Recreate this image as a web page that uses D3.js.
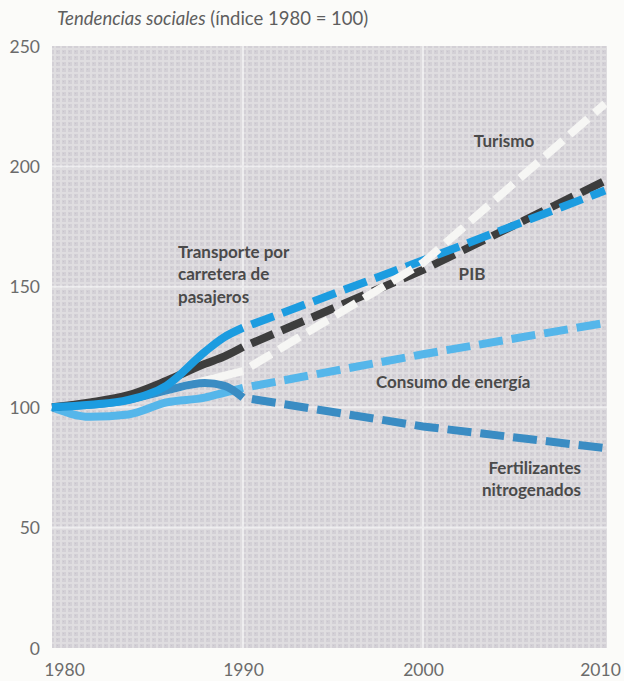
<!DOCTYPE html>
<html>
<head>
<meta charset="utf-8">
<script src="https://cdn.jsdelivr.net/npm/d3@7"></script>
<style>
  html, body { margin: 0; padding: 0; background: #fbfbf9; }
  svg { display: block; }
</style>
</head>
<body>
<svg id="chart" width="624" height="681"></svg>
<script>
// Index values (1980 = 100)
const years = [1980, 1982, 1984, 1986, 1988, 1989, 1990, 2000, 2010];
const pib          = [100, 102, 105, 111, 118, 121, 125, 157, 194];
const transporte   = [100, 101, 103, 109, 123, 129, 133, 161, 190];
const turismo      = [100, 101, 103, 107, 111, 113, 115, 160, 226];
const energia      = [100,  96,  97, 102, 104, 106, 108, 122, 135];
const fertilizantes= [100, 101, 103, 107, 110, 109, 104,  92,  83];

const yTicks = [0, 50, 100, 150, 200, 250];
const xTicks = [1980, 1990, 2000, 2010];
const splitYear = 1990;

const series = [
  { name: "Turismo", values: turismo, color: "#f6f6f4" },
  { name: "Consumo de energía", values: energia, color: "#55b6ea" },
  { name: "Fertilizantes nitrogenados", values: fertilizantes, color: "#3a8cc3" },
  { name: "PIB", values: pib, color: "#3d3d3d" },
  { name: "Transporte por carretera de pasajeros", values: transporte, color: "#1c9ce0" }
];

const svg = d3.select("#chart");
const plot = { left: 52, right: 607, top: 46, bottom: 648 };

const x = d3.scaleLinear().domain([1980, 1990, 2000, 2010]).range([52, 243, 423, 605]);
const y = d3.scaleLinear().domain([0, 250]).range([plot.bottom, plot.top]);

// textured grey backdrop
const defs = svg.append("defs");
const pat = defs.append("pattern").attr("id", "tex")
  .attr("width", 6).attr("height", 6).attr("patternUnits", "userSpaceOnUse");
pat.append("rect").attr("width", 6).attr("height", 6).attr("fill", "#d3d0d6");
pat.append("rect").attr("x", 0).attr("y", 0).attr("width", 6).attr("height", 2).attr("fill", "#dfdde0");
pat.append("rect").attr("x", 0).attr("y", 0).attr("width", 2).attr("height", 6).attr("fill", "#dfdde0");
pat.append("rect").attr("x", 3).attr("y", 3).attr("width", 1).attr("height", 1).attr("fill", "#c8c4cc");

svg.append("rect")
  .attr("x", plot.left).attr("y", plot.top)
  .attr("width", plot.right - plot.left).attr("height", plot.bottom - plot.top)
  .attr("fill", "url(#tex)");

// white grid lines
const grid = svg.append("g").attr("stroke", "#f4f4f4").attr("stroke-width", 2).attr("opacity", 0.8);
grid.selectAll("line.h").data(yTicks.filter(d => d > 0 && d < 250)).join("line")
  .attr("x1", plot.left).attr("x2", plot.right)
  .attr("y1", d => y(d)).attr("y2", d => y(d));
grid.selectAll("line.v").data([1990, 2000]).join("line")
  .attr("x1", d => x(d)).attr("x2", d => x(d))
  .attr("y1", plot.top).attr("y2", plot.bottom);

// axes (labels only)
const font = "Lato, 'Open Sans', sans-serif";
const yAxis = svg.append("g").attr("transform", `translate(${plot.left - 12},0)`)
  .call(d3.axisLeft(y).tickValues(yTicks).tickSize(0).tickPadding(0));
yAxis.select(".domain").remove();
yAxis.selectAll("text").attr("font-family", font).attr("font-size", 17.5)
  .attr("fill", "#6b6b6b").attr("dy", "0.35em");

const xAxis = svg.append("g").attr("transform", `translate(0,${plot.bottom + 16})`)
  .call(d3.axisBottom(x).tickValues(xTicks).tickFormat(d3.format("d")).tickSize(0).tickPadding(0));
xAxis.select(".domain").remove();
xAxis.selectAll("text").attr("font-family", font).attr("font-size", 17.5)
  .attr("fill", "#6b6b6b").attr("dy", "0.71em")
  .attr("dx", d => d === 1980 ? 12 : (d === 2010 ? -5 : 0));

// title
const title = svg.append("text").attr("x", 57).attr("y", 25)
  .attr("font-family", font).attr("font-size", 18.5).attr("fill", "#5e5e5e");
title.append("tspan").attr("font-style", "italic").text("Tendencias sociales");
title.append("tspan").text(" (índice 1980 = 100)");

// lines: solid before the split year, dashed after
const pts = s => years.map((yr, i) => ({ yr, v: s.values[i] }));
const solidLine = d3.line().x(d => x(d.yr)).y(d => y(d.v)).curve(d3.curveMonotoneX);
const dashLine = d3.line().x(d => x(d.yr)).y(d => y(d.v));

const lines = svg.append("g").attr("fill", "none").attr("stroke-width", 8);
series.forEach(s => {
  lines.append("path")
    .attr("d", solidLine(pts(s).filter(p => p.yr <= splitYear)))
    .attr("stroke", s.color);
});
const dashedOrder = [1, 2, 3, 4, 0];
dashedOrder.forEach(k => {
  const s = series[k];
  lines.append("path")
    .attr("d", dashLine(pts(s).filter(p => p.yr >= splitYear)))
    .attr("stroke", s.color)
    .attr("stroke-dasharray", "24,9")
    .attr("stroke-dashoffset", 24);
});

// series labels
const labels = [
  { lines: ["Turismo"], x: 504, y: 141, anchor: "middle" },
  { lines: ["PIB"], x: 472, y: 274, anchor: "middle" },
  { lines: ["Transporte por", "carretera de", "pasajeros"], x: 178, y: 252, anchor: "start" },
  { lines: ["Consumo de energía"], x: 376, y: 382, anchor: "start" },
  { lines: ["Fertilizantes", "nitrogenados"], x: 581, y: 468, anchor: "end" }
];
labels.forEach(l => {
  const t = svg.append("text").attr("font-family", font).attr("font-weight", "bold")
    .attr("font-size", 17).attr("fill", "#4a4a4a").attr("text-anchor", l.anchor);
  l.lines.forEach((ln, i) => {
    t.append("tspan").attr("x", l.x).attr("y", l.y + i * 22.5).attr("dy", "0.35em").text(ln);
  });
});
</script>
</body>
</html>
